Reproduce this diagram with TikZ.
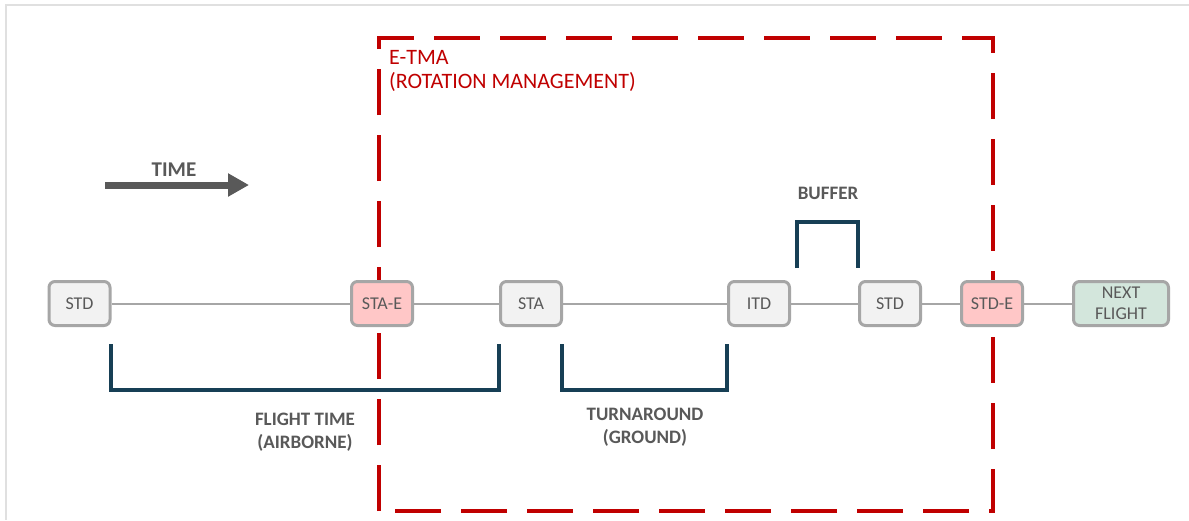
\documentclass[tikz,border=0pt]{standalone}
\usepackage{fontspec}
\setmainfont{Carlito}
\usetikzlibrary{arrows.meta}
\definecolor{boxgray}{HTML}{F2F2F2}
\definecolor{boxedge}{HTML}{A6A6A6}
\definecolor{boxpink}{HTML}{FFC7C7}
\definecolor{boxgreen}{HTML}{D3E6DC}
\definecolor{txtgray}{HTML}{595959}
\definecolor{etmared}{HTML}{C00000}
\definecolor{brk}{HTML}{173F55}
\definecolor{frame}{HTML}{E0E0E0}
\tikzset{
  evbox/.style={draw=boxedge, line width=3pt, rounded corners=6pt, fill=boxgray,
    minimum width=61pt, minimum height=44pt, inner sep=2pt, align=center,
    text=txtgray, font=\fontsize{18}{20}\selectfont},
  pinkbox/.style={evbox, fill=boxpink},
  greenbox/.style={evbox, fill=boxgreen, minimum width=95pt},
  link/.style={draw=boxedge, line width=2pt},
  bracket/.style={draw=brk, line width=3.5pt},
  lbl/.style={text=txtgray, font=\bfseries\fontsize{19}{23}\selectfont, align=center},
  zone/.style={draw=etmared, line width=4pt, dash pattern=on 46pt off 20pt},
}
\begin{document}
\begin{tikzpicture}[x=1pt,y=-1pt]
\useasboundingbox (0,0) rectangle (1189,520);
\fill[white] (0,0) rectangle (1189,520);
\draw[frame, line width=1.5pt] (6,520) -- (6,5) -- (1189,5);

% E-TMA zone
\draw[zone] (379,511) -- (379,38) -- (993,38) -- (993,511) -- cycle;
\node[anchor=north west, text=etmared, align=left, font=\fontsize{22}{24}\selectfont, inner sep=0pt] (etma) at (389,50) {E-TMA\\(ROTATION MANAGEMENT)};

% time arrow
\coordinate (t0) at (105,185);
\coordinate (t1) at (249,185);
\draw[txtgray, line width=7pt, -{Triangle[length=21pt,width=22pt]}] (t0) -- (t1);
\node[lbl, font=\bfseries\fontsize{21}{22}\selectfont] (time) at (174,170) {TIME};

% event nodes
\node[evbox] (std1) at (79.5,303.5) {STD};
\node[pinkbox] (stae) at (382,303.5) {STA-E};
\node[evbox] (sta) at (531,303.5) {STA};
\node[evbox] (itd) at (759,303.5) {ITD};
\node[evbox] (std2) at (890,303.5) {STD};
\node[pinkbox] (stde) at (992,303.5) {STD-E};
\node[greenbox, font=\fontsize{18}{21}\selectfont] (next) at (1121,303.5) {NEXT\\FLIGHT};

\draw[link] (std1) -- (stae);
\draw[link] (stae) -- (sta);
\draw[link] (sta) -- (itd);
\draw[link] (itd) -- (std2);
\draw[link] (std2) -- (stde);
\draw[link] (stde) -- (next);

% brackets
\coordinate (f0) at (111,344);
\coordinate (f1) at (111,390);
\coordinate (f2) at (499,390);
\coordinate (f3) at (499,344);
\draw[bracket] (f0) -- (f1) -- (f2) -- (f3);
\coordinate (g0) at (562,344);
\coordinate (g1) at (562,390);
\coordinate (g2) at (727,390);
\coordinate (g3) at (727,344);
\draw[bracket] (g0) -- (g1) -- (g2) -- (g3);
\coordinate (b0) at (797,268);
\coordinate (b1) at (797,222);
\coordinate (b2) at (858,222);
\coordinate (b3) at (858,268);
\draw[bracket] (b0) -- (b1) -- (b2) -- (b3);

\node[lbl] (flight) at (305,432) {FLIGHT TIME\\(AIRBORNE)};
\node[lbl] (turn) at (645,427) {TURNAROUND\\(GROUND)};
\node[lbl] (buffer) at (828,193) {BUFFER};
\end{tikzpicture}
\end{document}
